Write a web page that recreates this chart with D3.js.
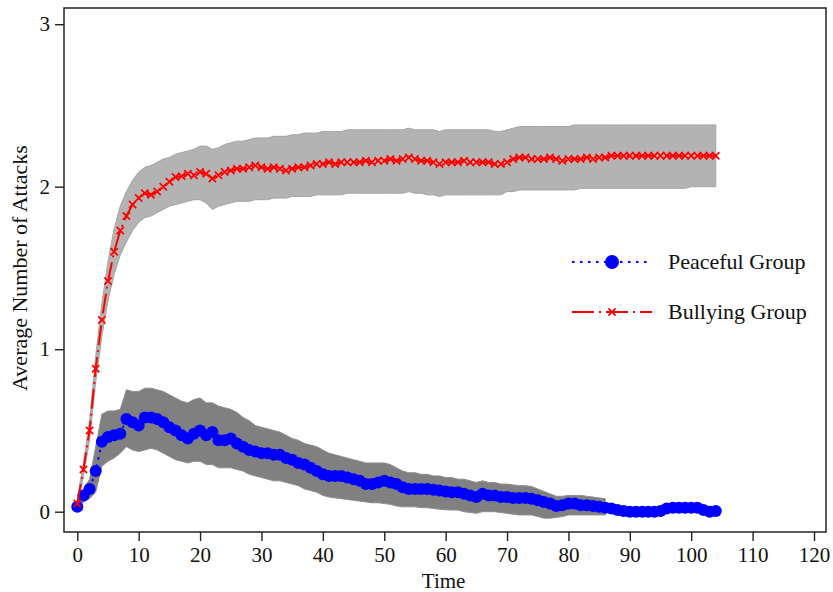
<!DOCTYPE html>
<html>
<head>
<meta charset="utf-8">
<script src="https://cdn.jsdelivr.net/npm/d3@7"></script>
<style>
  body { margin: 0; background: #fff; }
  svg { display: block; }
  text { font-family: "Liberation Serif", "Times New Roman", Times, serif; fill: #111; }
</style>
</head>
<body>
<svg id="chart" width="833" height="592"></svg>
<script>
// Average number of attacks per time step (index = time step)
const bullyMean = [
  0.05,0.26,0.50,0.88,1.18,1.42,1.60,1.73,1.82,1.89,
  1.93,1.96,1.95,1.97,2.00,2.03,2.06,2.065,2.08,2.07,
  2.09,2.08,2.05,2.07,2.09,2.10,2.11,2.11,2.12,2.13,
  2.12,2.11,2.12,2.11,2.10,2.11,2.12,2.12,2.13,2.14,
  2.14,2.15,2.14,2.15,2.15,2.15,2.15,2.16,2.15,2.16,
  2.16,2.17,2.16,2.17,2.18,2.17,2.16,2.16,2.15,2.14,
  2.15,2.15,2.15,2.16,2.15,2.15,2.15,2.15,2.14,2.14,
  2.15,2.17,2.18,2.18,2.17,2.17,2.17,2.18,2.17,2.16,
  2.17,2.17,2.17,2.18,2.17,2.18,2.18,2.19,2.19,2.19,
  2.19,2.19,2.19,2.19,2.19,2.19,2.19,2.19,2.19,2.19,
  2.19,2.19,2.19,2.19,2.19
];
const bullyHi = [
  0.08,0.30,0.56,0.96,1.28,1.54,1.74,1.88,1.97,2.04,
  2.09,2.12,2.13,2.15,2.17,2.18,2.20,2.21,2.22,2.23,
  2.25,2.25,2.23,2.24,2.26,2.27,2.28,2.28,2.29,2.30,
  2.30,2.30,2.31,2.31,2.31,2.32,2.32,2.33,2.33,2.33,
  2.34,2.34,2.34,2.34,2.35,2.35,2.35,2.35,2.35,2.35,
  2.35,2.35,2.35,2.35,2.36,2.35,2.35,2.35,2.35,2.34,
  2.35,2.35,2.35,2.35,2.35,2.35,2.35,2.35,2.34,2.34,
  2.35,2.36,2.37,2.37,2.37,2.37,2.37,2.37,2.37,2.37,
  2.37,2.38,2.38,2.38,2.38,2.38,2.38,2.38,2.38,2.38,
  2.38,2.38,2.38,2.38,2.38,2.38,2.38,2.38,2.38,2.38,
  2.38,2.38,2.38,2.38,2.38
];
const bullyLo = [
  0.02,0.22,0.44,0.80,1.08,1.30,1.46,1.58,1.66,1.73,
  1.78,1.81,1.82,1.84,1.86,1.88,1.89,1.90,1.91,1.92,
  1.92,1.90,1.86,1.88,1.89,1.90,1.91,1.91,1.91,1.92,
  1.92,1.92,1.93,1.93,1.93,1.94,1.94,1.94,1.94,1.95,
  1.95,1.95,1.95,1.95,1.96,1.96,1.96,1.96,1.96,1.96,
  1.96,1.96,1.96,1.96,1.97,1.96,1.96,1.95,1.95,1.94,
  1.95,1.95,1.95,1.95,1.95,1.95,1.95,1.95,1.95,1.95,
  1.97,1.97,1.98,1.98,1.98,1.98,1.98,1.98,1.98,1.98,
  1.98,1.98,1.99,1.99,1.99,1.99,1.99,1.99,1.99,1.99,
  1.99,1.99,1.99,1.99,1.99,1.99,1.99,1.99,1.99,1.99,
  2.00,2.00,2.00,2.00,2.00
];
const peaceMean = [
  0.03,0.10,0.14,0.25,0.43,0.46,0.47,0.48,0.57,0.55,
  0.53,0.58,0.58,0.57,0.55,0.52,0.50,0.47,0.45,0.48,
  0.50,0.47,0.49,0.44,0.44,0.45,0.42,0.40,0.38,0.37,
  0.36,0.36,0.35,0.35,0.33,0.32,0.30,0.29,0.27,0.25,
  0.23,0.22,0.22,0.22,0.21,0.20,0.19,0.17,0.17,0.18,
  0.19,0.18,0.17,0.15,0.14,0.14,0.14,0.14,0.135,0.13,
  0.125,0.12,0.12,0.11,0.10,0.09,0.11,0.10,0.10,0.09,
  0.09,0.085,0.085,0.085,0.08,0.07,0.06,0.05,0.035,0.04,
  0.05,0.05,0.04,0.04,0.035,0.03,0.025,0.02,0.01,0.005,
  0.0,0.0,0.0,0.0,0.0,0.005,0.02,0.025,0.025,0.025,
  0.025,0.025,0.01,0.0,0.005
];
const peaceHi = [
  0.05,0.14,0.20,0.40,0.60,0.62,0.62,0.63,0.75,0.74,
  0.74,0.76,0.76,0.75,0.74,0.72,0.70,0.68,0.67,0.69,
  0.70,0.67,0.67,0.65,0.64,0.63,0.61,0.58,0.56,0.53,
  0.52,0.51,0.50,0.49,0.47,0.45,0.44,0.42,0.41,0.40,
  0.38,0.36,0.35,0.34,0.33,0.32,0.31,0.30,0.30,0.30,
  0.30,0.29,0.27,0.25,0.24,0.24,0.23,0.23,0.22,0.22,
  0.21,0.21,0.20,0.20,0.19,0.18,0.19,0.18,0.18,0.17,
  0.17,0.165,0.16,0.16,0.155,0.14,0.125,0.11,0.095,0.095,
  0.10,0.10,0.10,0.095,0.09,0.085,0.08
];
const peaceLo = [
  0.01,0.06,0.08,0.12,0.28,0.31,0.33,0.36,0.40,0.38,
  0.37,0.38,0.39,0.38,0.36,0.34,0.32,0.31,0.30,0.31,
  0.31,0.29,0.29,0.27,0.27,0.27,0.26,0.25,0.23,0.22,
  0.21,0.20,0.19,0.19,0.18,0.17,0.16,0.14,0.13,0.12,
  0.10,0.09,0.085,0.08,0.075,0.07,0.065,0.06,0.055,0.055,
  0.05,0.045,0.035,0.03,0.03,0.03,0.025,0.025,0.02,0.015,
  0.012,0.01,0.01,0.0,-0.005,-0.01,0.0,0.0,0.0,-0.005,
  -0.01,-0.015,-0.02,-0.02,-0.02,-0.03,-0.04,-0.04,-0.035,-0.03,
  -0.02,-0.02,-0.02,-0.02,-0.02,-0.02,-0.02
];

const xTicks = [0,10,20,30,40,50,60,70,80,90,100,110,120];
const yTicks = [0,1,2,3];
const legendLabels = ["Peaceful Group", "Bullying Group"];
const xTitle = "Time";
const yTitle = "Average Number of Attacks";

// Layout
const frame = { left: 64, top: 8, right: 826, bottom: 532 };
const x = d3.scaleLinear().domain([0, 120]).range([77.3, 814]);
const y = d3.scaleLinear().domain([0, 3]).range([511.7, 24.2]);
const serif = '"Liberation Serif", "Times New Roman", Times, serif';

const svg = d3.select("#chart");

// Axes (ticks outside the plot box)
const xAxis = d3.axisBottom(x).tickValues(xTicks).tickFormat(d3.format("d"))
  .tickSize(9).tickSizeOuter(0).tickPadding(6);
const gx = svg.append("g").attr("transform", `translate(0,${frame.bottom})`).call(xAxis);
gx.select(".domain").remove();
gx.selectAll(".tick line").attr("stroke", "#222").attr("stroke-width", 1.4);
gx.selectAll(".tick text").attr("font-size", 21).attr("fill", "#111").style("font-family", serif);

const yAxis = d3.axisLeft(y).tickValues(yTicks).tickFormat(d3.format("d"))
  .tickSize(9).tickSizeOuter(0).tickPadding(5);
const gy = svg.append("g").attr("transform", `translate(${frame.left},0)`).call(yAxis);
gy.select(".domain").remove();
gy.selectAll(".tick line").attr("stroke", "#222").attr("stroke-width", 1.4);
gy.selectAll(".tick text").attr("font-size", 21).attr("fill", "#111").style("font-family", serif);

svg.append("text").attr("x", (x(0) + x(120)) / 2 - 2).attr("y", 588)
  .attr("text-anchor", "middle").attr("font-size", 21).style("font-family", serif).text(xTitle);
svg.append("text").attr("transform", "translate(27,268) rotate(-90)")
  .attr("text-anchor", "middle").attr("font-size", 22).style("font-family", serif).text(yTitle);

// Confidence bands
const band = (lo, hi) => d3.area()
  .x((d, i) => x(i))
  .y0((d, i) => y(lo[i]))
  .y1((d, i) => y(hi[i]));

svg.append("path").datum(peaceLo)
  .attr("d", band(peaceLo, peaceHi))
  .attr("fill", "#808080").attr("stroke", "#8e8e8e").attr("stroke-width", 1);
svg.append("path").datum(bullyLo)
  .attr("d", band(bullyLo, bullyHi))
  .attr("fill", "#b3b3b3").attr("stroke", "#a4a4a4").attr("stroke-width", 1);

// Mean lines
const line = d3.line().x((d, i) => x(i)).y(d => y(d));

svg.append("path").datum(peaceMean).attr("d", line)
  .attr("fill", "none").attr("stroke", "#0000ff").attr("stroke-width", 2)
  .attr("stroke-dasharray", "2.5,5");
svg.append("g").selectAll("circle").data(peaceMean).join("circle")
  .attr("cx", (d, i) => x(i)).attr("cy", d => y(d)).attr("r", 6)
  .attr("fill", "#0000ff");

svg.append("path").datum(bullyMean).attr("d", line)
  .attr("fill", "none").attr("stroke", "#ff0000").attr("stroke-width", 2)
  .attr("stroke-dasharray", "20,5,2,5");
const cross = "M-3.6,-3.6L3.6,3.6M-3.6,3.6L3.6,-3.6";
svg.append("g").selectAll("path").data(bullyMean).join("path")
  .attr("d", cross)
  .attr("transform", (d, i) => `translate(${x(i)},${y(d)})`)
  .attr("fill", "none").attr("stroke", "#ff0000").attr("stroke-width", 1.7);

// Plot box
svg.append("rect")
  .attr("x", frame.left).attr("y", frame.top)
  .attr("width", frame.right - frame.left).attr("height", frame.bottom - frame.top)
  .attr("fill", "none").attr("stroke", "#222").attr("stroke-width", 1.5);

// Legend
const lg = svg.append("g");
const legendRows = [
  { y: 262, color: "#0000ff", dash: "2.5,5.5", marker: "dot" },
  { y: 312, color: "#ff0000", dash: "22,5,2,5", marker: "cross" }
];
legendRows.forEach((r, k) => {
  lg.append("line").attr("x1", 572).attr("x2", 652).attr("y1", r.y).attr("y2", r.y)
    .attr("stroke", r.color).attr("stroke-width", 2).attr("stroke-dasharray", r.dash);
  if (r.marker === "dot") {
    lg.append("circle").attr("cx", 612).attr("cy", r.y).attr("r", 7).attr("fill", r.color);
  } else {
    lg.append("path").attr("d", cross).attr("transform", `translate(612,${r.y})`)
      .attr("fill", "none").attr("stroke", r.color).attr("stroke-width", 1.7);
  }
  lg.append("text").attr("x", 668).attr("y", r.y + 7).attr("font-size", 22)
    .style("font-family", serif).text(legendLabels[k]);
});
</script>
</body>
</html>
